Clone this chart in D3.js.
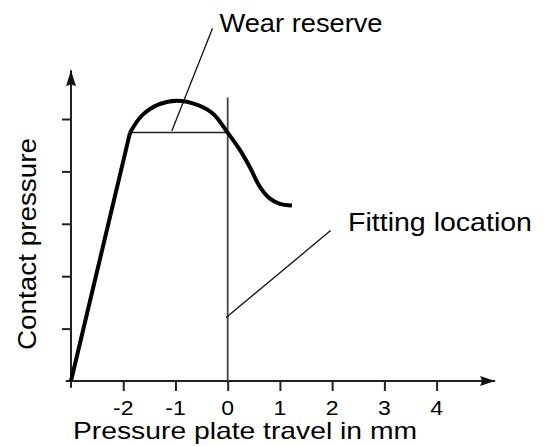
<!DOCTYPE html>
<html>
<head>
<meta charset="utf-8">
<script src="https://cdn.jsdelivr.net/npm/d3@7"></script>
<style>
  html, body { margin: 0; padding: 0; background: #fff; }
  svg { display: block; }
  .lbl { font-family: "Liberation Sans", Arial, Helvetica, sans-serif; fill: #000; }
</style>
</head>
<body>
<svg id="chart" width="550" height="446"></svg>
<script>
// ---- data ----
const xTickValues = [-2, -1, 0, 1, 2, 3, 4];
const xTickLabels = ["-2", "-1", "0", "1", "2", "3", "4"];
const yTickValues = [1, 2, 3, 4, 5];

// straight rising part of the contact pressure curve
const riseX = [-3, -1.87];
const riseY = [0, 4.74];

// curved part (peak, then fall behind the fitting location)
const curveX = [-1.87, -1.64, -1.32, -0.97, -0.58, -0.28, 0.0, 0.24, 0.43, 0.62, 0.81, 1.0, 1.23];
const curveY = [4.74, 5.07, 5.28, 5.35, 5.27, 5.10, 4.74, 4.40, 4.07, 3.70, 3.48, 3.38, 3.35];

// reference lines
const wearReserveX = [-1.87, 0];
const wearReserveY = [4.74, 4.74];
const fittingLineX = [0, 0];
const fittingLineY = [0, 5.41];

// annotation leaders
const wearLeaderX = [-1.07, -0.29];
const wearLeaderY = [4.77, 6.73];
const fitLeaderX = [-0.03, 1.97];
const fitLeaderY = [1.21, 2.87];

const xTitle = "Pressure plate travel in mm";
const yTitle = "Contact pressure";
const wearLabel = "Wear reserve";
const fitLabel = "Fitting location";

// ---- scales ----
const svg = d3.select("#chart");
const x = d3.scaleLinear().domain([-3, 4]).range([71, 436.6]);
const y = d3.scaleLinear().domain([0, 5]).range([381, 119]);

const zip = (xs, ys) => xs.map((v, i) => [v, ys[i]]);
const lineLin = d3.line().x(d => x(d[0])).y(d => y(d[1]));
const lineCurve = d3.line().x(d => x(d[0])).y(d => y(d[1])).curve(d3.curveCatmullRom.alpha(0.5));

// ---- arrow markers ----
const defs = svg.append("defs");
defs.append("marker")
  .attr("id", "arrowX").attr("viewBox", "0 0 15 10")
  .attr("refX", 15).attr("refY", 5)
  .attr("markerWidth", 15).attr("markerHeight", 10)
  .attr("markerUnits", "userSpaceOnUse").attr("orient", "auto")
  .append("path").attr("d", "M0,0 L15,5 L0,10 L2,5 Z").attr("fill", "#111");
defs.append("marker")
  .attr("id", "arrowY").attr("viewBox", "0 0 16 10")
  .attr("refX", 16).attr("refY", 5)
  .attr("markerWidth", 16).attr("markerHeight", 10)
  .attr("markerUnits", "userSpaceOnUse").attr("orient", "auto")
  .append("path").attr("d", "M0,0 L16,5 L0,10 L2,5 Z").attr("fill", "#111");

// ---- axes (ticks from d3 axes, labels drawn from the same scale) ----
const xAxis = d3.axisBottom(x).tickValues(xTickValues).tickFormat("").tickSize(10).tickSizeOuter(0);
const gx = svg.append("g").attr("transform", `translate(0,${y(0)})`).call(xAxis);
gx.select(".domain").remove();
gx.selectAll(".tick line").attr("stroke", "#222").attr("stroke-width", 2);
gx.selectAll(".tick text").remove();

const tickLabels = svg.append("g").selectAll("text")
  .data(xTickValues)
  .join("text")
  .attr("class", "lbl")
  .attr("x", d => x(d))
  .attr("y", 415)
  .attr("text-anchor", "middle")
  .style("font-size", "20px")
  .text((d, i) => xTickLabels[i]);
// the reference face is wider than Liberation Sans: widen the glyphs a little
tickLabels.each(function() {
  const w = this.getComputedTextLength();
  d3.select(this).attr("textLength", w * 1.15).attr("lengthAdjust", "spacingAndGlyphs");
});

const yAxis = d3.axisLeft(y).tickValues(yTickValues).tickFormat("").tickSize(9).tickSizeOuter(0);
const gy = svg.append("g").attr("transform", `translate(${x(-3)},0)`).call(yAxis);
gy.select(".domain").remove();
gy.selectAll(".tick line").attr("stroke", "#222").attr("stroke-width", 2);
gy.selectAll(".tick text").remove();

// axis lines with arrows
svg.append("line")
  .attr("x1", x(-3.1)).attr("x2", x(5.12))
  .attr("y1", y(0)).attr("y2", y(0))
  .attr("stroke", "#222").attr("stroke-width", 2)
  .attr("marker-end", "url(#arrowX)");
svg.append("line")
  .attr("x1", x(-3)).attr("x2", x(-3))
  .attr("y1", y(-0.13)).attr("y2", y(5.93))
  .attr("stroke", "#222").attr("stroke-width", 2)
  .attr("marker-end", "url(#arrowY)");

// ---- reference lines ----
svg.append("path").attr("d", lineLin(zip(fittingLineX, fittingLineY)))
  .attr("fill", "none").attr("stroke", "#444").attr("stroke-width", 1.8);
svg.append("path").attr("d", lineLin(zip(wearReserveX, wearReserveY)))
  .attr("fill", "none").attr("stroke", "#222").attr("stroke-width", 1.5);

// leaders
svg.append("path").attr("d", lineLin(zip(wearLeaderX, wearLeaderY)))
  .attr("fill", "none").attr("stroke", "#111").attr("stroke-width", 1.3);
svg.append("path").attr("d", lineLin(zip(fitLeaderX, fitLeaderY)))
  .attr("fill", "none").attr("stroke", "#111").attr("stroke-width", 1.3);

// ---- curve ----
svg.append("path").attr("d", lineLin(zip(riseX, riseY)))
  .attr("fill", "none").attr("stroke", "#000").attr("stroke-width", 4)
  .attr("stroke-linejoin", "round");
svg.append("path").attr("d", lineCurve(zip(curveX, curveY)))
  .attr("fill", "none").attr("stroke", "#000").attr("stroke-width", 4)
  .attr("stroke-linecap", "butt");

// ---- texts ----
svg.append("text").attr("class", "lbl").text(xTitle)
  .attr("x", 73).attr("y", 439).style("font-size", "24px")
  .attr("textLength", 344).attr("lengthAdjust", "spacingAndGlyphs");

svg.append("text").attr("class", "lbl").text(yTitle)
  .attr("transform", "translate(36,350) rotate(-90)")
  .attr("x", 0).attr("y", 0).style("font-size", "26px")
  .attr("textLength", 212).attr("lengthAdjust", "spacingAndGlyphs");

svg.append("text").attr("class", "lbl").text(wearLabel)
  .attr("x", 219.5).attr("y", 32).style("font-size", "26px")
  .attr("textLength", 163).attr("lengthAdjust", "spacingAndGlyphs");

svg.append("text").attr("class", "lbl").text(fitLabel)
  .attr("x", 348).attr("y", 231).style("font-size", "26px")
  .attr("textLength", 184).attr("lengthAdjust", "spacingAndGlyphs");
</script>
</body>
</html>
